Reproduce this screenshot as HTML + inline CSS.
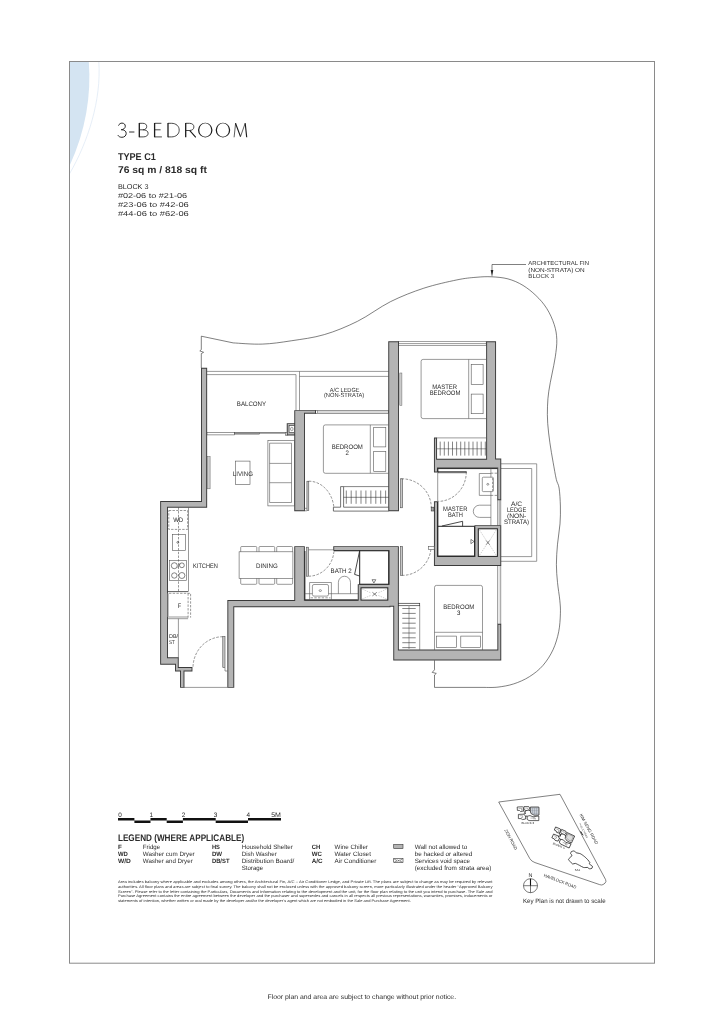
<!DOCTYPE html>
<html lang="en"><head><meta charset="utf-8"><title>3-Bedroom Type C1</title>
<style>
html,body{margin:0;padding:0;background:#fff}
body{width:724px;height:1024px;overflow:hidden;position:relative;font-family:"Liberation Sans",sans-serif}
svg{position:absolute;left:0;top:0;display:block;will-change:opacity}
text{font-family:"Liberation Sans",sans-serif;fill:#2b2b2b;text-rendering:geometricPrecision}
.serif{font-family:"Liberation Serif",serif}
.ws{fill:none;stroke:#3a3a3a;stroke-width:1.9;stroke-linejoin:miter}
.wf{fill:#b4b4b4;stroke:none}
.k{fill:none;stroke:#1e1e1e;stroke-width:.9;stroke-linejoin:miter}
.f{fill:none;stroke:#555;stroke-width:.6}
.t{fill:none;stroke:#333;stroke-width:.6}
.fw{fill:#fff;stroke:#555;stroke-width:.6}
.lf{fill:#c9c9c9;stroke:#444;stroke-width:.55}
.l{fill:none;stroke:#2a2a2a;stroke-width:.6}
.d{fill:none;stroke:#3a3a3a;stroke-width:.55;stroke-dasharray:2.6 1.4}
.dd{fill:none;stroke:#444;stroke-width:.55;stroke-dasharray:2.4 1.3}
.dx{fill:none;stroke:#8a8a8a;stroke-width:.4;stroke-dasharray:1.5 1}
</style></head><body>
<svg width="724" height="1024" viewBox="0 0 724 1024">

<g id="frame">
<path d="M69.5 61.5 H88.8 C91.3 95 86 130 69.5 166 Z" fill="#d4e4f2"/>
<path d="M98.8 61.6 C101.5 100 88 142 69.4 174" fill="none" stroke="#dbe7f3" stroke-width=".7"/>
<rect x="69.5" y="61.5" width="585" height="901.7" fill="none" stroke="#8a8a8a" stroke-width="1"/>
</g>
<g id="header">
<g fill="none" stroke="#1c1c1c" stroke-width=".8">
<path stroke-width=".95" d="M118.5 125.6 C119.2 123.9 120.5 123.1 122 123.1 C124 123.1 125.3 124.4 125.3 126.2 C125.3 128.2 123.6 129.6 121.2 129.7 C124.4 129.7 126.2 131.2 126.2 133.4 C126.2 135.7 124.4 137.3 121.9 137.3 C120.1 137.3 118.7 136.6 117.9 135.2"/>
<path stroke-width=".9" d="M129.1 132 H134.4"/>
<path d="M139.3 123.3 H142.8 C145.3 123.3 146.7 124.6 146.7 126.5 C146.7 128.4 145.3 129.8 142.8 129.8 H139.3 M142.8 129.8 C146.2 129.8 148.1 131.2 148.1 133.3 C148.1 135.5 146.3 136.9 143.2 136.9 H139.3"/>
<path d="M161.4 123.3 H154.6 M154.6 136.9 H161.9 M154.6 129.8 H160.6"/>
<path d="M168 123.3 H171.4 C176.2 123.3 179.2 126.2 179.2 130.1 C179.2 134 176.2 136.9 171.4 136.9 H168"/>
<path d="M185.7 123.3 H189.4 C192.3 123.3 193.9 124.8 193.9 126.9 C193.9 129 192.3 130.5 189.4 130.5 H185.7"/>
<path stroke-width=".7" d="M234.1 137.3 L235.6 123.2 M240.5 136.6 L245.2 123.2"/>
</g>
<g fill="none" stroke="#1c1c1c" stroke-width="1.3">
<path d="M139.3 122.9 V137.3 M154.6 122.9 V137.3 M168 122.9 V137.3 M185.7 122.9 V137.3"/>
<path stroke-width="1.15" d="M189.6 130.4 L195.8 137.3 M235.5 123.2 L240.5 136.6 M245.2 123.2 L246.7 137.3"/>
</g>
<path fill="#1c1c1c" fill-rule="evenodd" d="M198 130.1 a7.25 7.35 0 1 0 14.5 0 a7.25 7.35 0 1 0 -14.5 0 Z M199.25 130.1 a6 6.75 0 1 1 12 0 a6 6.75 0 1 1 -12 0 Z"/>
<path fill="#1c1c1c" fill-rule="evenodd" d="M215.7 130.1 a7.25 7.35 0 1 0 14.5 0 a7.25 7.35 0 1 0 -14.5 0 Z M216.95 130.1 a6 6.75 0 1 1 12 0 a6 6.75 0 1 1 -12 0 Z"/>
<text x="117.9" y="159.7" font-size="9.8" font-weight="bold" fill="#1f1f1f" textLength="38" lengthAdjust="spacingAndGlyphs">TYPE C1</text>
<text x="117.9" y="172.6" font-size="9.8" font-weight="bold" fill="#1f1f1f" textLength="89" lengthAdjust="spacingAndGlyphs">76 sq m / 818 sq ft</text>
<text x="117.9" y="188.8" font-size="7.1" textLength="30.6" lengthAdjust="spacingAndGlyphs">BLOCK 3</text>
<text x="117.9" y="197.9" font-size="7.1" textLength="69.2" lengthAdjust="spacingAndGlyphs">#02-06 to #21-06</text>
<text x="117.9" y="207.0" font-size="7.1" textLength="70.9" lengthAdjust="spacingAndGlyphs">#23-06 to #42-06</text>
<text x="117.9" y="216.1" font-size="7.1" textLength="70.9" lengthAdjust="spacingAndGlyphs">#44-06 to #62-06</text>
</g>
<g id="plan">
<path class="l" d="M201.3 368 V353.6 L203.6 352.3 L199.8 350.9 L201.3 349.6 V336.2 L233.2 342.9 C238.0 343.1 252.5 344.5 262.2 344.1 C271.9 343.8 280.8 342.4 291.2 340.8 C301.6 339.2 313.2 337.9 324.3 334.6 C335.4 331.4 346.4 326.8 357.5 321.3 C368.6 315.8 379.6 307.1 390.6 301.6 C401.7 296.1 412.8 291.8 423.8 288.2 C434.9 284.6 448.2 281.7 456.9 279.9 C465.6 278.1 470.2 277.8 476 277.3 C481.8 276.8 486.5 276.5 491.8 276.8 C497.1 277.1 502.8 277.5 508 278.9 C513.2 280.3 518.4 282.6 523 285.4 C527.6 288.2 531.9 291.7 535.9 295.5 C539.9 299.3 543.7 303.6 546.7 308.4 C549.8 313.2 552.5 319.3 554.2 324.5 C555.9 329.7 556.6 334.2 556.8 339.6 C557.0 345.0 556.1 351.1 555.3 356.8 C554.5 362.5 553.1 368.3 552 374 C550.9 379.7 549.5 385.8 548.8 391.2 C548.0 396.6 547.7 400.8 547.5 406.2 C547.3 411.6 547.3 417.3 547.7 423.4 C548.1 429.5 549.0 436.3 549.9 442.8 C550.8 449.3 552.0 456.1 553.1 462.2 C554.2 468.3 555.3 475.1 556.3 479.4 C557.3 483.7 558.4 483.6 559.1 488 C559.8 492.4 560.2 500.0 560.4 506 C560.5 512.0 560.5 517.5 560 523.9 C559.5 530.3 558.1 537.5 557.5 544.2 C556.9 551.0 556.4 558.0 556.4 564.4 C556.4 570.8 556.9 576.4 557.5 582.4 C558.1 588.4 559.3 595.1 559.8 600.3 C560.3 605.5 560.6 608.5 560.4 613.8 C560.2 619.0 559.9 625.8 558.7 631.8 C557.5 637.8 555.6 644.2 553 649.8 C550.4 655.4 546.8 661.0 542.9 665.5 C539.0 670.0 534.3 673.6 529.4 676.7 C524.5 679.8 518.9 682.2 513.7 683.9 C508.5 685.6 502.9 686.5 498 687.1 C493.1 687.7 486.3 687.4 484 687.4 H434.5 V675 L436.3 673.4 L432.2 672.4 L434.5 669.8 V660.3"/>
<path class="l" d="M526 264.5 H492 V272"/>
<path d="M490.7 270 H493.3 L492 276.9 Z" fill="#222"/>
<text x="528.3" y="265.3" font-size="5.9" textLength="60.7" lengthAdjust="spacingAndGlyphs">ARCHITECTURAL FIN</text>
<text x="528.3" y="271.5" font-size="5.9" textLength="56.4" lengthAdjust="spacingAndGlyphs">(NON-STRATA) ON</text>
<text x="528.3" y="277.6" font-size="5.9" textLength="25.9" lengthAdjust="spacingAndGlyphs">BLOCK 3</text>
<path class="f" d="M206.8 371.4 H388.5 M206.8 374.6 H296 M299.5 376.4 H388.5 M296 374.6 V410.4 M299.5 371.4 V410.4"/>
<rect x="206.9" y="432.4" width="27.4" height="2.5" fill="#fff" stroke="#444" stroke-width=".55"/>
<rect x="234.3" y="432.4" width="25.4" height="1.7" fill="#9a9a9a" stroke="#444" stroke-width=".5"/>
<path d="M259.7 432.9 H285.4" stroke="#444" stroke-width="1.1" fill="none"/>
<rect class="fw" x="285.4" y="432.3" width="2.1" height="2.9"/>
<rect x="315.6" y="410.4" width="72.9" height="3.1" fill="#d9d9d9" stroke="#555" stroke-width=".55"/>
<rect x="315.6" y="410.4" width="1.8" height="3.1" fill="#fff" stroke="#555" stroke-width=".5"/>
<rect x="398.7" y="341.6" width="87.5" height="4" fill="#fff" stroke="#555" stroke-width=".55"/>
<path class="f" d="M398.7 343.6 H486.2"/>
<path class="f" d="M501 463.8 H536.7 V561.3 H501 M501 468.5 H531.7 V556.6 H501"/>
<path class="f" d="M497.6 499.8 V525.5 M499.2 499.8 V525.5 M500.7 499.8 V525.5"/>
<path class="f" d="M497.6 565.7 V624 M500.7 565.7 V624"/>
<path d="M499.2 565.7 V624" stroke="#aaa" stroke-width=".5" fill="none"/>
<path class="f" d="M184 687.4 H227.6"/>
<path class="ws" d="M202.00 368.80 L206.20 368.80 L206.20 506.70 L167.00 506.70 L167.00 658.30 L177.80 658.30 L177.80 667.90 L191.50 667.90 L191.50 670.60 L183.50 670.60 L183.50 686.90 L181.00 686.90 L181.00 670.60 L176.00 670.60 L176.00 663.80 L161.10 663.80 L161.10 501.90 L202.00 501.90 Z M295.20 411.10 L315.00 411.10 L315.00 412.80 L304.00 412.80 L304.00 510.30 L295.20 510.30 Z M287.70 424.10 L294.20 424.10 L294.20 434.50 L287.70 434.50 Z M389.20 342.30 L398.00 342.30 L398.00 510.20 L389.20 510.20 Z M487.10 342.30 L495.10 342.30 L495.10 459.50 L500.30 459.50 L500.30 499.30 L498.20 499.30 L498.20 467.60 L437.00 467.60 L437.00 471.50 L434.90 471.50 L434.90 438.50 L436.10 438.50 L436.10 459.80 L487.10 459.80 Z M434.90 502.30 L437.00 502.30 L437.00 556.90 L475.40 556.90 L475.40 526.10 L500.30 526.10 L500.30 565.10 L434.90 565.10 Z M389.40 547.10 L397.90 547.10 L397.90 650.50 L498.30 650.50 L498.30 624.70 L500.30 624.70 L500.30 659.60 L394.20 659.60 L394.20 605.70 L389.40 605.70 Z M295.20 547.10 L303.90 547.10 L303.90 600.80 L358.70 600.80 L358.70 585.10 L389.60 585.10 L389.60 549.90 L334.20 549.90 L334.20 547.10 L389.50 547.10 L389.50 606.20 L233.30 606.20 L233.30 686.90 L228.30 686.90 L228.30 601.00 L295.20 601.00 Z"/>
<path class="wf" d="M202.00 368.80 L206.20 368.80 L206.20 506.70 L167.00 506.70 L167.00 658.30 L177.80 658.30 L177.80 667.90 L191.50 667.90 L191.50 670.60 L183.50 670.60 L183.50 686.90 L181.00 686.90 L181.00 670.60 L176.00 670.60 L176.00 663.80 L161.10 663.80 L161.10 501.90 L202.00 501.90 Z M295.20 411.10 L315.00 411.10 L315.00 412.80 L304.00 412.80 L304.00 510.30 L295.20 510.30 Z M287.70 424.10 L294.20 424.10 L294.20 434.50 L287.70 434.50 Z M389.20 342.30 L398.00 342.30 L398.00 510.20 L389.20 510.20 Z M487.10 342.30 L495.10 342.30 L495.10 459.50 L500.30 459.50 L500.30 499.30 L498.20 499.30 L498.20 467.60 L437.00 467.60 L437.00 471.50 L434.90 471.50 L434.90 438.50 L436.10 438.50 L436.10 459.80 L487.10 459.80 Z M434.90 502.30 L437.00 502.30 L437.00 556.90 L475.40 556.90 L475.40 526.10 L500.30 526.10 L500.30 565.10 L434.90 565.10 Z M389.40 547.10 L397.90 547.10 L397.90 650.50 L498.30 650.50 L498.30 624.70 L500.30 624.70 L500.30 659.60 L394.20 659.60 L394.20 605.70 L389.40 605.70 Z M295.20 547.10 L303.90 547.10 L303.90 600.80 L358.70 600.80 L358.70 585.10 L389.60 585.10 L389.60 549.90 L334.20 549.90 L334.20 547.10 L389.50 547.10 L389.50 606.20 L233.30 606.20 L233.30 686.90 L228.30 686.90 L228.30 601.00 L295.20 601.00 Z"/>
<path class="k" d="M437.9 502 V556 H474.5"/>
<path class="k" d="M437.9 471.8 V468.6 H497.4"/>
<path class="k" d="M304.9 551 V599.9 H357.8"/>
<path class="k" d="M334 550.8 H388.7 V584.2 H359.2"/>
<rect x="289.1" y="425.6" width="5.4" height="6.8" fill="#fff" stroke="#303030" stroke-width=".6"/>
<ellipse cx="291.8" cy="429" rx="1.3" ry="1.7" fill="none" stroke="#444" stroke-width=".5"/>
<rect x="478.3" y="528.8" width="19.1" height="27.6" fill="#fff" stroke="#1e1e1e" stroke-width="1"/>
<path class="dx" d="M479.5 530 L486 540 M496.2 530 L490 540 M479.5 555.2 L486 545.5 M496.2 555.2 L490 545.5"/>
<path class="t" d="M486.1 540.4 L489.7 544.8 M489.7 540.4 L486.1 544.8"/>
<rect x="361" y="587.8" width="26.8" height="12.3" fill="#fff" stroke="#1e1e1e" stroke-width="1"/>
<path class="dx" d="M362.2 589 L371 593 M386.6 589 L378 593 M362.2 599 L371 595.3 M386.6 599 L378 595.3"/>
<path class="t" d="M372.4 592.3 L376.8 595.9 M376.8 592.3 L372.4 595.9"/>
<rect class="lf" x="400.7" y="478.8" width="1.9" height="29"/>
<path class="d" d="M401.6 478.8 A29.5 29 0 0 1 431.3 507.8"/>
<rect x="431.2" y="507.2" width="2.8" height="3.8" fill="#a8a8a8" stroke="#333" stroke-width=".6"/>
<rect x="438.3" y="471.3" width="27.9" height="1.6" fill="#8c8c8c" stroke="#333" stroke-width=".5"/>
<path class="d" d="M466.3 472 A28.4 29.4 0 0 1 437.9 501.4"/>
<path class="f" d="M437.7 472 V501.8"/>
<rect class="lf" x="306.9" y="481.2" width="1.9" height="29.5"/>
<path class="d" d="M308.8 481.2 A25.2 29.3 0 0 1 334 510.5"/>
<path class="f" d="M304.7 508.3 H306.9 M304.7 510.8 H306.9"/>
<rect class="lf" x="400.5" y="546.4" width="2.2" height="29"/>
<path class="d" d="M402 575.4 A29 29 0 0 0 431 546.8"/>
<rect class="fw" x="428.3" y="546.4" width="5.9" height="2.9"/>
<rect class="lf" x="306.6" y="547.2" width="2" height="29"/>
<path class="d" d="M308.6 576.2 A25.5 27 0 0 0 334 550"/>
<path class="f" d="M308.6 549.8 H333.5"/>
<rect class="lf" x="222.8" y="636.7" width="2.2" height="31"/>
<path class="d" d="M222.8 636.7 A30 31 0 0 0 193 667.5"/>
<path class="f" d="M225 667.6 V671 H227.6"/>
<path class="f" d="M486.2 359.4 H423.1 Q421.1 359.4 421.1 361.4 V416.6 Q421.1 418.6 423.1 418.6 H486.2 M468.7 359.4 V418.6"/>
<rect class="f" x="471.2" y="364.4" width="11.9" height="19.9"/><rect class="f" x="471.2" y="394.1" width="11.9" height="19.6"/>
<rect x="399.8" y="373" width="2.1" height="32.4" fill="#cfcfcf" stroke="#666" stroke-width=".5"/>
<path class="f" d="M436.6 437.9 H486.2 M436.6 448.8 H486.2"/>
<path class="t" d="M440.2 441.6 V455.6"/>
<path class="t" d="M444.3 441.6 V455.6"/>
<path class="t" d="M448.4 441.6 V455.6"/>
<path class="t" d="M452.5 441.6 V455.6"/>
<path class="t" d="M456.6 441.6 V455.6"/>
<path class="t" d="M460.7 441.6 V455.6"/>
<path class="t" d="M464.8 441.6 V455.6"/>
<path class="t" d="M468.9 441.6 V455.6"/>
<path class="t" d="M473.0 441.6 V455.6"/>
<path class="t" d="M477.1 441.6 V455.6"/>
<path class="t" d="M481.2 441.6 V455.6"/>
<path class="t" d="M485.3 441.6 V455.6"/>
<path class="f" d="M388.5 424.9 H325.4 Q323.4 424.9 323.4 426.9 V471.3 Q323.4 473.3 325.4 473.3 H388.5 M370.3 424.9 V473.3"/>
<rect class="f" x="373.7" y="427.3" width="12.1" height="19.6"/><rect class="f" x="373.7" y="451.4" width="12.1" height="20.2"/>
<path d="M333.4 507.2 H340.6 V486.6 H343.6 V507.2 H388.6 V511.1 H333.4 Z" fill="#fff" stroke="#3a3a3a" stroke-width=".7"/>
<path class="t" d="M343.6 486.6 H388.6 M343.6 497.3 H388.6"/>
<path class="t" d="M346.3 490.5 V503.8"/>
<path class="t" d="M351.2 490.5 V503.8"/>
<path class="t" d="M356.1 490.5 V503.8"/>
<path class="t" d="M361.0 490.5 V503.8"/>
<path class="t" d="M365.9 490.5 V503.8"/>
<path class="t" d="M370.9 490.5 V503.8"/>
<path class="t" d="M375.8 490.5 V503.8"/>
<path class="t" d="M380.7 490.5 V503.8"/>
<path class="t" d="M385.6 490.5 V503.8"/>
<path class="f" d="M434.5 650 V587.4 Q434.5 585.4 436.5 585.4 H480.5 Q482.5 585.4 482.5 587.4 V650 M434.5 632.3 H482.5"/>
<rect class="f" x="436.5" y="636.1" width="19.9" height="11.2"/><rect class="f" x="460.8" y="636.1" width="19.8" height="11.2"/>
<rect x="398.6" y="603.3" width="21.1" height="2.4" fill="#fff" stroke="#333" stroke-width=".7"/>
<path class="f" d="M419.7 605.7 V650"/>
<path d="M409 605.7 V650" stroke="#aaa" stroke-width="1.1" fill="none"/>
<path class="t" d="M402.3 608.5 H415.7"/>
<path class="t" d="M402.3 613.4 H415.7"/>
<path class="t" d="M402.3 618.3 H415.7"/>
<path class="t" d="M402.3 623.2 H415.7"/>
<path class="t" d="M402.3 628.1 H415.7"/>
<path class="t" d="M402.3 633.0 H415.7"/>
<path class="t" d="M402.3 637.8 H415.7"/>
<path class="t" d="M402.3 642.7 H415.7"/>
<path class="t" d="M402.3 647.6 H415.7"/>
<rect class="f" x="267.9" y="440.3" width="26.6" height="65.6"/>
<path class="f" d="M291.5 443.2 H269.6 V502.5 H291.5 Z M269.6 463.4 H291.5 M269.6 482.7 H291.5"/>
<rect class="f" x="235.3" y="461.1" width="14.7" height="23.2"/>
<rect x="207.5" y="456.5" width="2.6" height="32.3" fill="#cfcfcf" stroke="#666" stroke-width=".5"/>
<rect class="f" x="239.1" y="551.8" width="53.8" height="26.5"/>
<path class="f" d="M240.7 551.8 V547.5 Q240.7 546.5 241.7 546.5 H255.8 Q256.8 546.5 256.8 547.5 V551.8"/>
<path class="f" d="M240.7 578.3 V583.3 Q240.7 584.3 241.7 584.3 H255.8 Q256.8 584.3 256.8 583.3 V578.3"/>
<path class="f" d="M259 551.8 V547.5 Q259 546.5 260 546.5 H273.7 Q274.7 546.5 274.7 547.5 V551.8"/>
<path class="f" d="M259 578.3 V583.3 Q259 584.3 260 584.3 H273.7 Q274.7 584.3 274.7 583.3 V578.3"/>
<path class="f" d="M276.7 551.8 V547.5 Q276.7 546.5 277.7 546.5 H291.6 Q292.6 546.5 292.6 547.5 V551.8"/>
<path class="f" d="M276.7 578.3 V583.3 Q276.7 584.3 277.7 584.3 H291.6 Q292.6 584.3 292.6 583.3 V578.3"/>
<path class="f" d="M188.5 507.4 V591.6 M178.4 618.7 V657.9 M167.6 617 H188.1 M167.6 618.7 H188.1"/>
<path d="M167.6 591.6 H188.1" stroke="#333" stroke-width=".8" fill="none"/>
<path d="M168.3 593.3 V617" stroke="#bbb" stroke-width="1.2" fill="none"/>
<path class="dd" d="M169 593.3 H190.6 V617.6 M188.1 593.3 V617.6"/>
<path class="dd" d="M178.5 507.4 V592.5"/>
<rect class="dd" x="168.8" y="510.5" width="18.8" height="18.9"/>
<rect class="f" x="172.4" y="534.4" width="13.2" height="16"/>
<circle class="t" cx="177.8" cy="542.4" r=".9"/>
<rect class="f" x="169.6" y="560.4" width="16.9" height="19.9"/>
<circle class="t" cx="174.3" cy="565.7" r="3"/><circle class="t" cx="181.9" cy="565.3" r="2.4"/><path class="t" d="M177.9 567.6 L179.6 563.6"/>
<circle class="t" cx="174.3" cy="575.5" r="2.7"/><circle class="t" cx="181.9" cy="575.5" r="3"/>
<path class="f" d="M490.9 468.3 V525.4 M479.3 473.5 H490.9 M479.3 473.5 V495.4 H490.9"/>
<rect class="fw" x="482.3" y="477.2" width="11.1" height="14.4" rx="1"/>
<ellipse class="f" cx="487.8" cy="484.3" rx="1" ry=".9" stroke="#333"/>
<path class="dd" d="M490.9 473.2 H497 M490.9 495.4 H497 M492.6 478 V491"/>
<path class="f" d="M490.9 505.2 H479.4 A6.1 6.1 0 0 0 479.4 517.4 H490.9"/>
<path d="M437.7 526.3 H474.7" stroke="#222" stroke-width="1" fill="none"/>
<path d="M441.9 526 L462.6 521.3 V526.3" stroke="#2a2a2a" stroke-width=".85" fill="none"/>
<path class="k" d="M474.5 526.3 V556"/>
<path class="t" d="M470.9 539.4 L474 541.5 L470.9 543.7 Z"/>
<path class="f" d="M304.6 593.7 H358 M309.6 600.3 V582.5 H331.4 V600.3"/>
<rect class="fw" x="312.4" y="584.5" width="16.1" height="11.6" rx="1.6"/>
<ellipse class="f" cx="320.3" cy="590.6" rx="1.2" ry=".9" stroke="#333"/>
<path class="dd" d="M310.6 597.8 H330.4"/>
<path class="f" d="M338.4 593.7 V582.3 A6.05 6.05 0 0 1 350.5 582.3 V593.7"/>
<path d="M359.7 550.4 V584.2" stroke="#222" stroke-width="1" fill="none"/>
<path d="M359.6 551 L354.6 574.4 L359.6 576" stroke="#2a2a2a" stroke-width=".85" fill="none"/>
<path class="t" d="M372 579.7 H375.8 L373.9 583 Z"/>
<text x="236.85" y="405.94" font-size="6.4" textLength="29.3" lengthAdjust="spacingAndGlyphs">BALCONY</text>
<text x="329.8" y="391.6" font-size="6" textLength="29.6" lengthAdjust="spacingAndGlyphs">A/C LEDGE</text>
<text x="323.95" y="396.9" font-size="6" textLength="40.3" lengthAdjust="spacingAndGlyphs">(NON-STRATA)</text>
<text x="432.25" y="389.44" font-size="6.4" textLength="24.9" lengthAdjust="spacingAndGlyphs">MASTER</text>
<text x="429.65" y="395.14" font-size="6.4" textLength="30.7" lengthAdjust="spacingAndGlyphs">BEDROOM</text>
<text x="331.7" y="448.84" font-size="6.4" textLength="31.2" lengthAdjust="spacingAndGlyphs">BEDROOM</text>
<text x="345.6" y="455.44" font-size="6.4" textLength="3.4" lengthAdjust="spacingAndGlyphs">2</text>
<text x="232.8" y="476.14" font-size="6.4" textLength="20.2" lengthAdjust="spacingAndGlyphs">LIVING</text>
<text x="193.05" y="568.24" font-size="6.4" textLength="24.9" lengthAdjust="spacingAndGlyphs">KITCHEN</text>
<text x="256.1" y="568.04" font-size="6.4" textLength="21.6" lengthAdjust="spacingAndGlyphs">DINING</text>
<text x="330.55" y="573.14" font-size="6.4" textLength="21.1" lengthAdjust="spacingAndGlyphs">BATH 2</text>
<text x="443.0" y="510.64" font-size="6.4" textLength="24.4" lengthAdjust="spacingAndGlyphs">MASTER</text>
<text x="447.95" y="517.24" font-size="6.4" textLength="14.9" lengthAdjust="spacingAndGlyphs">BATH</text>
<text x="443.2" y="609.14" font-size="6.4" textLength="31.2" lengthAdjust="spacingAndGlyphs">BEDROOM</text>
<text x="457.1" y="615.34" font-size="6.4" textLength="3.4" lengthAdjust="spacingAndGlyphs">3</text>
<text x="173.2" y="522.24" font-size="6.4" textLength="10" lengthAdjust="spacingAndGlyphs">WD</text>
<text x="177.8" y="608.44" font-size="6.4" textLength="3.4" lengthAdjust="spacingAndGlyphs">F</text>
<text x="169.05" y="637.88" font-size="5.4" textLength="9.1" lengthAdjust="spacingAndGlyphs">DB/</text>
<text x="169.1" y="643.68" font-size="5.4" textLength="5.8" lengthAdjust="spacingAndGlyphs">ST</text>
<text x="511.05" y="506.04" font-size="6.4" textLength="11.1" lengthAdjust="spacingAndGlyphs">A/C</text>
<text x="506.95" y="511.54" font-size="6.4" textLength="19.3" lengthAdjust="spacingAndGlyphs">LEDGE</text>
<text x="506.95" y="517.74" font-size="6.4" textLength="19.3" lengthAdjust="spacingAndGlyphs">(NON-</text>
<text x="503.9" y="523.94" font-size="6.4" textLength="25.2" lengthAdjust="spacingAndGlyphs">STRATA)</text>
</g>
<g id="scale">
<path d="M118 819.3 H134.4 M134.4 821.7 H150.5 M150.5 819.3 H166.7 M166.7 821.7 H182.9 M182.9 819.3 H215.7 M215.7 821.7 H248 M248 819.3 H281 " stroke="#111" stroke-width="2.5" fill="none"/>
<text x="118.3" y="817.3" font-size="6.4">0</text>
<text x="151.3" y="817.3" font-size="6.4" text-anchor="middle">1</text>
<text x="183.6" y="817.3" font-size="6.4" text-anchor="middle">2</text>
<text x="215.6" y="817.3" font-size="6.4" text-anchor="middle">3</text>
<text x="248.4" y="817.3" font-size="6.4" text-anchor="middle">4</text>
<text x="271.2" y="817.3" font-size="6.4" textLength="9.8" lengthAdjust="spacingAndGlyphs">5M</text>
</g>
<g id="legend">
<text x="117.9" y="840.6" font-size="9.5" font-weight="bold" fill="#1f1f1f" textLength="126.3" lengthAdjust="spacingAndGlyphs">LEGEND (WHERE APPLICABLE)</text>
<text x="117.9" y="848.8" font-size="6.25" font-weight="bold">F</text>
<text x="117.9" y="855.9" font-size="6.25" font-weight="bold" textLength="9.9" lengthAdjust="spacingAndGlyphs">WD</text>
<text x="117.9" y="863.0" font-size="6.25" font-weight="bold" textLength="12.9" lengthAdjust="spacingAndGlyphs">W/D</text>
<text x="142.8" y="848.8" font-size="6.25" textLength="17.3" lengthAdjust="spacingAndGlyphs">Fridge</text>
<text x="142.8" y="855.9" font-size="6.25" textLength="51.9" lengthAdjust="spacingAndGlyphs">Washer cum Dryer</text>
<text x="142.8" y="863.0" font-size="6.25" textLength="49.9" lengthAdjust="spacingAndGlyphs">Washer and Dryer</text>
<text x="211.9" y="848.8" font-size="6.25" font-weight="bold" textLength="8.0" lengthAdjust="spacingAndGlyphs">HS</text>
<text x="211.9" y="855.9" font-size="6.25" font-weight="bold" textLength="10.2" lengthAdjust="spacingAndGlyphs">DW</text>
<text x="211.9" y="863.0" font-size="6.25" font-weight="bold" textLength="17.6" lengthAdjust="spacingAndGlyphs">DB/ST</text>
<text x="241.7" y="848.8" font-size="6.25" textLength="51.2" lengthAdjust="spacingAndGlyphs">Household Shelter</text>
<text x="241.7" y="855.9" font-size="6.25" textLength="35.0" lengthAdjust="spacingAndGlyphs">Dish Washer</text>
<text x="241.7" y="863.0" font-size="6.25" textLength="52.7" lengthAdjust="spacingAndGlyphs">Distribution Board/</text>
<text x="241.7" y="870.1" font-size="6.25" textLength="21.4" lengthAdjust="spacingAndGlyphs">Storage</text>
<text x="311.8" y="848.8" font-size="6.25" font-weight="bold" textLength="8.5" lengthAdjust="spacingAndGlyphs">CH</text>
<text x="311.8" y="855.9" font-size="6.25" font-weight="bold" textLength="10.2" lengthAdjust="spacingAndGlyphs">WC</text>
<text x="311.8" y="863.0" font-size="6.25" font-weight="bold" textLength="10.9" lengthAdjust="spacingAndGlyphs">A/C</text>
<text x="334.6" y="848.8" font-size="6.25" textLength="33.3" lengthAdjust="spacingAndGlyphs">Wine Chiller</text>
<text x="334.6" y="855.9" font-size="6.25" textLength="36.3" lengthAdjust="spacingAndGlyphs">Water Closet</text>
<text x="334.6" y="863.0" font-size="6.25" textLength="41.8" lengthAdjust="spacingAndGlyphs">Air Conditioner</text>
<text x="414.7" y="848.8" font-size="6.25" textLength="52.7" lengthAdjust="spacingAndGlyphs">Wall not allowed to</text>
<text x="414.7" y="855.9" font-size="6.25" textLength="57.6" lengthAdjust="spacingAndGlyphs">be hacked or altered</text>
<text x="414.7" y="863.0" font-size="6.25" textLength="55.4" lengthAdjust="spacingAndGlyphs">Services void space</text>
<text x="414.7" y="870.1" font-size="6.25" textLength="76.6" lengthAdjust="spacingAndGlyphs">(excluded from strata area)</text>
<rect x="393.7" y="844.5" width="9.3" height="4.1" fill="#b4b4b4" stroke="#333" stroke-width=".6"/>
<rect x="393.7" y="858.6" width="9.3" height="4.1" fill="#fff" stroke="#333" stroke-width=".6"/>
<path d="M394.2 859.1 L397 860.5 M402.5 859.1 L399.6 860.5 M394.2 862.2 L397 860.9 M402.5 862.2 L399.6 860.9 M397.4 859.8 L399.3 861.5 M399.3 859.8 L397.4 861.5" stroke="#222" stroke-width=".5" fill="none"/>
</g>
<g id="fine">
<text x="117.9" y="883.4" font-size="3.75" fill="#454545" textLength="374.6" lengthAdjust="spacingAndGlyphs">Area includes balcony where applicable and excludes among others, the Architectural Fin, A/C – Air Conditioner Ledge, and Private Lift. The plans are subject to change as may be required by relevant</text>
<text x="117.9" y="888" font-size="3.75" fill="#454545" textLength="374.6" lengthAdjust="spacingAndGlyphs">authorities. All floor plans and areas are subject to final survey. The balcony shall not be enclosed unless with the approved balcony screen, more particularly illustrated under the header “Approved Balcony</text>
<text x="117.9" y="892.6" font-size="3.75" fill="#454545" textLength="374.6" lengthAdjust="spacingAndGlyphs">Screen”. Please refer to the letter containing the Particulars, Documents and Information relating to the development and the unit, for the floor plan relating to the unit you intend to purchase. The Sale and</text>
<text x="117.9" y="897.4" font-size="3.75" fill="#454545" textLength="374.6" lengthAdjust="spacingAndGlyphs">Purchase Agreement contains the entire agreement between the developer and the purchaser and supersedes and cancels in all respects all previous representations, warranties, promises, inducements or</text>
<text x="117.9" y="902" font-size="3.75" fill="#454545" textLength="293" lengthAdjust="spacingAndGlyphs">statements of intention, whether written or oral made by the developer and/or the developer’s agent which are not embodied in the Sale and Purchase Agreement.</text>
</g>
<g id="keyplan">
<path d="M498.7 802 L560 794.3 L605.6 879.6 Q606.6 881.6 605 883.2 L603 884.6 Q601.6 885.4 599.6 884.6 L535 862.6 Q531.4 861.4 529.8 858.6 Z" fill="none" stroke="#2e2e2e" stroke-width=".6" stroke-linejoin="round"/>
<defs><g id="blk" fill="#fff" stroke="#1e1e1e" stroke-width=".7" stroke-linejoin="round">
<path d="M-10.8 -6.7 L-5.6 -6.9 L-4.6 -6.1 V-2.7 L-7.4 -2.1 L-8.6 -3.3 H-10.6 Z M-4.1 -7.1 H.8 L1.6 -5.7 L.8 -3.5 L-2 -3.1 L-4 -4.1 Z M2.4 -6.5 H10.8 V1.3 H6 L3 -.3 L2.4 -2.7 Z M-9.6 .7 L-4.4 .5 L-2.4 2.3 V5.3 L-5.4 5.9 L-7 4.9 H-9.6 Z M-.8 2.5 L2 1.9 L5 3.1 L10.8 2.3 V6.9 H1 L-.8 5.7 Z"/>
<path d="M-4.6 -2.7 L-2.2 -.5 L-4.4 .5 M.8 -3.5 L2.4 -2.7 M-2.4 2.3 L-.8 2.5 M-3.4 -1.6 L-1.6 -3.2" stroke-width=".8" fill="none"/>
<path d="M-9.4 -5.2 h3.4 v1.4 M-8.4 2 h3 v1.8 h-1.6 M2.4 4.4 h5 v1.4 M-2.8 -5.6 h2.4 v1.2 M-6.4 -4.6 v1.6 M6 3.4 v2.4" stroke="#555" stroke-width=".4" fill="none"/>
</g></defs>
<use href="#blk" x="528" y="813.7"/>
<path d="M530.4 807.2 H538.8 V815 H534 L531 813.4 L530.4 811 Z" fill="#e3e7ec" stroke="#2a2a2a" stroke-width=".6"/>
<path d="M531 808.8 H538.4 M531 810.4 H538.4 M531.2 812 H538.4 M533 813.6 H538.4 M532.6 807.6 V813.8 M534.6 807.6 V814.6 M536.6 807.6 V814.6" stroke="#707a86" stroke-width=".4" fill="none"/>
<use href="#blk" transform="translate(562.4 837.4) rotate(25) scale(.98)"/>
<path d="M0 0 h6.6 v5.4 h-3.6 l-2.4 -1.2 z" transform="translate(562.4 837.4) rotate(25) scale(.98) translate(3.2 -5.6)" fill="#ddd" stroke="#444" stroke-width=".4"/>
<path d="M571.3 851.6 C571.6 851.5 573.5 850.8 574.1 850.9 C574.7 851.0 575.4 852.4 576.1 852.7 C576.8 853.0 579.3 853.3 580.3 853.7 C581.3 854.1 583.5 855.8 584.4 856.5 C585.3 857.2 587.3 859.2 587.9 859.9 C588.5 860.6 589.7 862.2 589.9 862.7 C590.1 863.2 589.0 863.6 589.3 864 C589.6 864.4 592.0 865.6 592.3 866.1 C592.6 866.6 592.4 867.9 592 868.2 C591.6 868.5 589.8 869.0 589.3 868.9 C588.8 868.8 588.6 867.7 587.9 867.5 C587.2 867.3 584.7 867.7 583.7 867.5 C582.7 867.3 580.6 865.9 579.6 865.4 C578.6 864.9 576.2 863.6 575.4 863.4 C574.6 863.2 573.3 864.2 572.7 864 C572.1 863.8 570.4 861.9 569.9 861.3 C569.4 860.7 568.4 859.7 568.5 859.2 C568.6 858.7 570.2 857.7 570.6 857.2 C571.0 856.7 572.0 855.5 572 855.1 C572.0 854.7 570.7 854.1 570.6 853.7 C570.5 853.3 571.2 851.8 571.3 851.6 Z" fill="#fff" stroke="#2a2a2a" stroke-width=".85" stroke-linejoin="round"/>
<text x="521.6" y="824.3" font-size="3" fill="#555" textLength="12.7" lengthAdjust="spacingAndGlyphs">BLOCK 3</text>
<text x="0" y="0" font-size="3" fill="#555" textLength="12.6" lengthAdjust="spacingAndGlyphs" transform="translate(552.6 844.2) rotate(23)">BLOCK 5</text>
<text x="574.8" y="871.4" font-size="3" fill="#555" textLength="5.5" lengthAdjust="spacingAndGlyphs">5A1</text>
<text x="0" y="0" font-size="4.2" text-anchor="middle" fill="#222" textLength="22.6" lengthAdjust="spacingAndGlyphs" transform="translate(509.6 840) rotate(62)">ZION ROAD</text>
<text x="0" y="0" font-size="4.2" text-anchor="middle" fill="#222" textLength="34" lengthAdjust="spacingAndGlyphs" transform="translate(587.6 829.8) rotate(61.4)">KIM SENG ROAD</text>
<text x="0" y="0" font-size="2.4" text-anchor="middle" fill="#444" transform="translate(582.8 831) rotate(62)">PUBLIC ROAD</text>
<text x="0" y="0" font-size="4.3" text-anchor="middle" fill="#222" textLength="34.6" lengthAdjust="spacingAndGlyphs" transform="translate(559.6 882.6) rotate(21)">HAVELOCK ROAD</text>
<path d="M580.7 831.4 q.8 2.6 2.6 3.6" stroke="#111" stroke-width="1" fill="none"/>
<circle cx="530.5" cy="885.7" r="7" fill="none" stroke="#222" stroke-width=".6"/>
<path d="M523.5 885.7 H537.5 M530.5 885.7 V892.7" stroke="#222" stroke-width=".6" fill="none"/><path d="M530.5 878.7 V885.7" stroke="#111" stroke-width="1.1" fill="none"/>
<text x="528.6" y="877.3" font-size="5.4" fill="#222">N</text>
<text x="522.9" y="902.8" font-size="6.3" textLength="82.7" lengthAdjust="spacingAndGlyphs">Key Plan is not drawn to scale</text>
</g>
<text x="267.5" y="998.9" font-size="6.7" fill="#1f1f1f" textLength="188.6" lengthAdjust="spacingAndGlyphs">Floor plan and area are subject to change without prior notice.</text>
</svg>
</body></html>
